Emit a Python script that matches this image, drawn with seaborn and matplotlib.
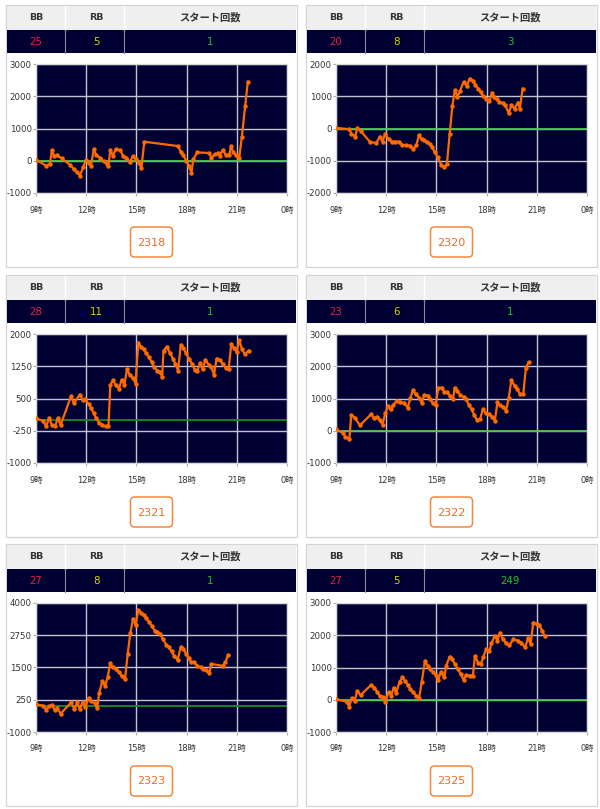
import matplotlib
matplotlib.use('Agg')
import matplotlib.pyplot as plt
import seaborn as sns
import pandas as pd
from matplotlib.patches import Rectangle, FancyBboxPatch

plt.rcParams['font.family'] = ['DejaVu Sans', 'Noto Sans CJK JP']

# ---------------- data ----------------
machines = ["2318", "2320", "2321", "2322", "2323", "2325"]
bb_counts = [25, 20, 28, 23, 27, 27]
rb_counts = [5, 8, 11, 6, 8, 5]
start_counts = [1, 3, 1, 1, 1, 249]
header_labels = ["BB", "RB", "スタート回数"]
x_ticks = [9, 12, 15, 18, 21, 24]
x_tick_labels = ["9時", "12時", "15時", "18時", "21時", "0時"]
y_ticks = [
    [-1000, 0, 1000, 2000, 3000],
    [-2000, -1000, 0, 1000, 2000],
    [-1000, -250, 500, 1250, 2000],
    [-1000, 0, 1000, 2000, 3000],
    [-1000, 250, 1500, 2750, 4000],
    [-1000, 0, 1000, 2000, 3000],
]

h2318 = [9.0, 9.6, 9.83, 9.95, 10.1, 10.27, 10.53, 11.02, 11.26, 11.46, 11.62, 11.82, 11.98, 12.17, 12.29,
         12.45, 12.6, 12.8, 13.05, 13.25, 13.33, 13.44, 13.6, 13.76, 14.04, 14.2, 14.4, 14.6, 14.8, 14.95,
         15.15, 15.3, 15.47, 17.5, 17.65, 17.8, 17.97, 18.13, 18.29, 18.4, 18.64, 19.36, 19.48, 19.67,
         19.87, 19.99, 20.15, 20.35, 20.55, 20.65, 20.79, 20.95, 21.14, 21.3, 21.5, 21.66]
v2318 = [30, -150, -100, 330, 140, 165, 70, -120, -260, -360, -460, -200, 20, -80, -150,
         350, 185, 100, -20, -100, -150, 330, 155, 350, 330, 155, 100, -40, 145, 50,
         -60, -230, 590, 455, 270, 185, 0, -150, -370, 50, 260, 240, 80, 205,
         225, 155, 330, 185, 185, 455, 270, 165, 70, 740, 1700, 2450]

h2320 = [9.0, 9.8, 9.92, 10.15, 10.27, 10.47, 11.06, 11.42, 11.62, 11.78, 11.94, 12.14, 12.33, 12.53,
         12.77, 12.97, 13.2, 13.44, 13.6, 13.8, 13.96, 14.12, 14.28, 14.44, 14.6, 14.75, 14.9, 15.07,
         15.3, 15.47, 15.63, 15.79, 15.95, 16.1, 16.26, 16.42, 16.62, 16.82, 16.98, 17.18, 17.33, 17.49,
         17.65, 17.8, 17.97, 18.17, 18.33, 18.44, 18.6, 18.76, 18.96, 19.12, 19.32, 19.48, 19.67, 19.87,
         19.99, 20.15]
v2320 = [20, -20, -165, -250, 20, -80, -430, -440, -250, -410, -165, -330, -410, -410,
         -410, -515, -515, -535, -640, -515, -205, -330, -370, -430, -475, -575, -740, -885,
         -1135, -1195, -1090, -185, 690, 1185, 990, 1175, 1440, 1320, 1545, 1485, 1360, 1235,
         1135, 1000, 930, 865, 1115, 970, 905, 825, 785, 720, 475, 720, 620, 805,
         620, 1235]

h2321 = [9.0, 9.44, 9.6, 9.79, 9.95, 10.15, 10.31, 10.47, 11.1, 11.26, 11.62, 11.78, 11.94, 12.14, 12.3,
         12.45, 12.6, 12.77, 12.97, 13.17, 13.33, 13.44, 13.6, 13.76, 13.96, 14.12, 14.28, 14.44, 14.6,
         14.8, 14.95, 15.11, 15.27, 15.43, 15.59, 15.75, 15.91, 16.07, 16.26, 16.42, 16.54, 16.62, 16.82,
         17.02, 17.18, 17.33, 17.49, 17.65, 17.81, 17.97, 18.13, 18.33, 18.49, 18.65, 18.8, 18.96, 19.12,
         19.32, 19.48, 19.64, 19.79, 19.99, 20.15, 20.35, 20.51, 20.67, 20.83, 20.99, 21.15, 21.31,
         21.47, 21.71]
v2321 = [36, -25, -150, 50, -120, -135, 50, -120, 560, 390, 590, 475, 485, 375, 270,
         160, 35, -70, -120, -150, -150, 810, 930, 810, 730, 940, 825, 1180, 1055,
         980, 840, 1800, 1705, 1645, 1550, 1460, 1350, 1225, 1150, 1120, 995, 1615, 1705,
         1550, 1430, 1305, 1150, 1750, 1675, 1550, 1430, 1305, 1165, 1150, 1320, 1180, 1395,
         1290, 1225, 1055, 1430, 1395, 1305, 1210, 1180, 1770, 1675, 1580, 1860, 1645,
         1535, 1615]

h2322 = [9.0, 9.4, 9.56, 9.8, 9.91, 10.11, 10.43, 11.1, 11.26, 11.46, 11.62, 11.78, 11.94, 12.1, 12.26,
         12.42, 12.62, 12.85, 13.09, 13.29, 13.44, 13.6, 13.76, 13.96, 14.12, 14.28, 14.47, 14.63, 14.8,
         14.95, 15.11, 15.31, 15.47, 15.63, 15.83, 15.99, 16.1, 16.26, 16.42, 16.62, 16.78, 16.94, 17.1,
         17.26, 17.42, 17.62, 17.77, 17.97, 18.17, 18.33, 18.49, 18.65, 18.8, 19.0, 19.16, 19.32, 19.48,
         19.67, 19.83, 19.99, 20.19, 20.35, 20.51]
v2322 = [40, -60, -185, -250, 495, 410, 165, 515, 390, 435, 330, 185, 535, 760, 660,
         805, 930, 885, 845, 720, 1010, 1260, 1135, 1030, 865, 1115, 1090, 970, 845,
         785, 1320, 1340, 1215, 1195, 1070, 990, 1340, 1235, 1115, 1050, 970, 805, 660,
         495, 330, 370, 660, 535, 515, 435, 310, 885, 785, 740, 620, 1010, 1565,
         1400, 1300, 1135, 1135, 1960, 2125]

h2323 = [9.0, 9.44, 9.6, 9.79, 9.95, 10.11, 10.27, 10.47, 11.1, 11.3, 11.46, 11.62, 11.78, 11.94, 12.14,
         12.3, 12.5, 12.66, 12.77, 12.97, 13.13, 13.29, 13.44, 13.6, 13.76, 13.96, 14.12, 14.32, 14.48,
         14.64, 14.8, 14.95, 15.11, 15.27, 15.43, 15.59, 15.75, 15.91, 16.1, 16.26, 16.42, 16.58, 16.78,
         16.94, 17.1, 17.26, 17.46, 17.65, 17.81, 17.97, 18.13, 18.29, 18.44, 18.65, 18.84, 19.0, 19.16,
         19.36, 19.48, 20.15, 20.31, 20.47]
v2323 = [70, 20, -135, -10, 45, -135, -85, -290, 145, -110, 145, -110, 170, -40, 300,
         200, 120, -85, 510, 970, 790, 1150, 1670, 1515, 1435, 1310, 1180, 1050, 2030,
         2850, 3395, 3140, 3730, 3630, 3550, 3420, 3265, 3110, 2930, 2880, 2800, 2595, 2390,
         2285, 2130, 1950, 1795, 2285, 2235, 2030, 1850, 1695, 1695, 1565, 1515, 1460, 1385,
         1280, 1640, 1565, 1695, 1975]

h2325 = [9.0, 9.63, 9.79, 9.95, 10.11, 10.27, 10.47, 11.1, 11.3, 11.46, 11.62, 11.78, 11.94, 12.14, 12.3,
         12.45, 12.6, 12.8, 12.97, 13.13, 13.29, 13.44, 13.6, 13.8, 13.96, 14.12, 14.32, 14.48, 14.64,
         14.8, 14.95, 15.11, 15.27, 15.47, 15.59, 15.79, 15.95, 16.1, 16.3, 16.46, 16.62, 16.78, 16.98,
         17.18, 17.3, 17.5, 17.65, 17.81, 17.97, 18.17, 18.29, 18.49, 18.65, 18.8, 18.96, 19.16, 19.36,
         19.6, 19.87, 20.07, 20.31, 20.47, 20.63, 20.79, 20.99, 21.15, 21.31, 21.47]
v2325 = [20, -60, -210, 60, -40, 270, 145, 460, 375, 250, 105, 85, -60, 230, 125,
         375, 210, 560, 690, 585, 460, 335, 230, 125, 40, 540, 1210, 1040, 960,
         855, 770, 625, 855, 690, 1060, 1335, 1250, 1105, 940, 790, 625, 770, 750,
         750, 1355, 1145, 1105, 1335, 1560, 1500, 1750, 1980, 1835, 2085, 1895, 1750, 1690,
         1875, 1835, 1770, 1625, 1915, 1730, 2395, 2355, 2310, 2145, 1980]

series_hours = [h2318, h2320, h2321, h2322, h2323, h2325]
series_values = [v2318, v2320, v2321, v2322, v2323, v2325]

# ---------------- styles ----------------
W, H = 600, 809
NAVY = '#000033'
ORANGE = '#ff6a00'
green_colors = ['#4cc44c', '#4cc44c', '#1c8c1c', '#4cc44c', '#1c8c1c', '#4cc44c']

fig = plt.figure(figsize=(W / 100, H / 100), dpi=100)
fig.patch.set_facecolor('white')

# overlay axes in pixel coordinates for the table / boxes
bg = fig.add_axes([0, 0, 1, 1])
bg.set_xlim(0, W)
bg.set_ylim(H, 0)
bg.axis('off')

panel_x = [0, 300]
panel_y = [0, 270, 539]

for i in range(6):
    ox = panel_x[i % 2]
    oy = panel_y[i // 2]

    # outer card
    bg.add_patch(Rectangle((ox + 6, oy + 5), 290.5, 261.5, facecolor='white',
                           edgecolor='#d4d4d4', lw=0.9))
    # header row
    bg.add_patch(Rectangle((ox + 6.5, oy + 5.5), 289.5, 24.5, facecolor='#efefef',
                           edgecolor='none'))
    # values row
    bg.add_patch(Rectangle((ox + 6.5, oy + 30), 289.5, 23, facecolor=NAVY,
                           edgecolor='none'))
    for cx in (65, 124):
        bg.plot([ox + cx, ox + cx], [oy + 5.5, oy + 30], color='white', lw=1.0)
        bg.plot([ox + cx, ox + cx], [oy + 30, oy + 53], color='#8a8a9a', lw=0.8)

    col_x = [ox + 36, ox + 96, ox + 210]
    head_sizes = [6.8, 6.8, 7.4]
    for cx, lab, fs in zip(col_x, header_labels, head_sizes):
        bg.text(cx, oy + 17.5, lab, ha='center', va='center', fontsize=fs,
                fontweight='bold', color='#333333')
    val_colors = ['#e8203a', '#d4d400', '#22c422']
    vals = [bb_counts[i], rb_counts[i], start_counts[i]]
    for cx, v, c in zip(col_x, vals, val_colors):
        bg.text(cx, oy + 42, str(v), ha='center', va='center', fontsize=7.4, color=c)

    # machine number button
    bg.add_patch(FancyBboxPatch((ox + 130.5, oy + 227), 42, 30,
                                boxstyle='round,pad=0,rounding_size=4',
                                facecolor='white', edgecolor='#f5873a', lw=1.1))
    bg.text(ox + 151.5, oy + 242.5, machines[i], ha='center', va='center',
            fontsize=8.0, color='#f06a28')

    # chart axes
    ax = fig.add_axes([(ox + 36) / W, 1 - (oy + 193) / H, 251 / W, 129 / H])
    ax.set_facecolor(NAVY)
    yt = y_ticks[i]
    ax.set_xlim(9, 24)
    ax.set_ylim(yt[0], yt[-1])
    ax.set_xticks(x_ticks)
    ax.set_xticklabels(x_tick_labels)
    ax.set_yticks(yt)
    ax.set_yticklabels([str(t) for t in yt])
    ax.grid(True, color='#c4c4d0', lw=1.0, zorder=1)
    ax.set_axisbelow(True)
    ax.axhline(0, color=green_colors[i], lw=1.3, zorder=2)
    df = pd.DataFrame({'hour': series_hours[i], 'value': series_values[i]})
    sns.lineplot(data=df, x='hour', y='value', ax=ax, color=ORANGE, lw=1.6,
                 marker='o', markersize=3.2, markeredgewidth=0, estimator=None,
                 sort=False, zorder=3)
    ax.set_xlabel('')
    ax.set_ylabel('')
    for sp in ax.spines.values():
        sp.set_color('#d8d8d8')
        sp.set_linewidth(0.9)
    ax.tick_params(axis='y', labelsize=6.2, colors='#333333', length=2, pad=1,
                   color='#aaaaaa')
    ax.tick_params(axis='x', labelsize=6.0, colors='#333333', length=2, pad=7,
                   color='#aaaaaa')

fig.savefig('out.png', dpi=100, facecolor='white')
